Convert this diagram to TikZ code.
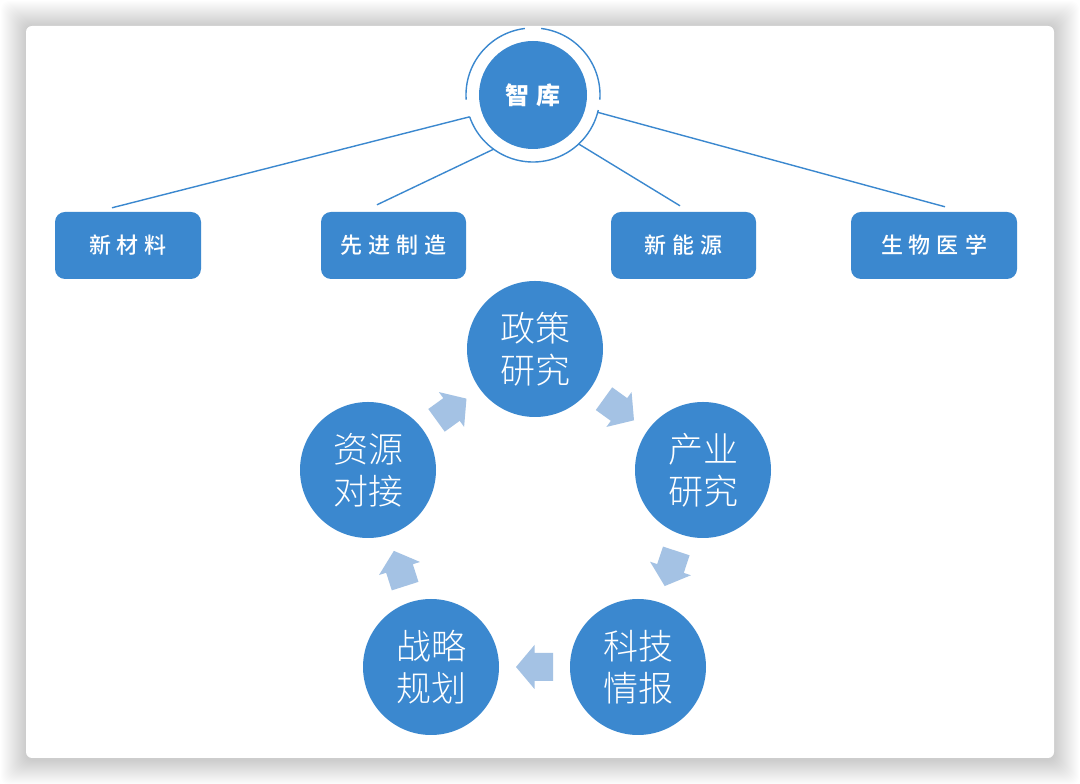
\documentclass[tikz,border=0pt]{standalone}
\usepackage{fontspec}
\newfontfamily\cjk{Noto Sans CJK SC}
\newfontfamily\cjkmed{Noto Sans CJK SC Medium}
\newfontfamily\cjklight{Noto Sans CJK SC Light}
\usetikzlibrary{calc}
\definecolor{mainblue}{RGB}{59,136,207}
\definecolor{arrowblue}{RGB}{164,194,228}
\begin{document}
\begin{tikzpicture}[x=1pt,y=1pt,
  catbox/.style={fill=mainblue, rounded corners=10pt, minimum height=67pt, text=white, font=\cjkmed\fontsize{22}{26}\selectfont, inner sep=0pt},
  cyc/.style={circle, fill=mainblue, minimum size=136pt, inner sep=0pt, text=white, align=center, font=\cjklight\fontsize{35}{42}\selectfont},
  link/.style={draw=mainblue, line width=1.4pt},
  cycarrow/.style={fill=arrowblue}]
\fill[white] (0,0) rectangle (1080,784);
\useasboundingbox (0,0) rectangle (1080,784);
% shadow
\foreach \i in {1,...,25}{
  \fill[black, opacity=0.0065, rounded corners=8pt] ({26-\i},{24-\i}) rectangle ({1054+\i},{758+\i});
}
% card
\fill[white, rounded corners=6pt] (26,26) rectangle (1054,758);

% hub
\node[circle, fill=mainblue, minimum size=108pt, inner sep=0pt, text=white, font=\cjk\bfseries\fontsize{24}{28}\selectfont] (zk) at (533,689) {智\hskip8pt 库};
\draw[link] (zk.center) ++(97:67) arc[start angle=97, end angle=184, radius=67];
\draw[link] (zk.center) ++(199:67) arc[start angle=199, end angle=347, radius=67];
\draw[link] (zk.center) ++(356:67) arc[start angle=356, end angle=443, radius=67];
\coordinate (r1) at ($(zk.center)+(199:67)$);
\coordinate (r2) at ($(zk.center)+(234:67)$);
\coordinate (r3) at ($(zk.center)+(313:67)$);
\coordinate (r4) at ($(zk.center)+(345:67)$);

% category boxes
\node[catbox, minimum width=146pt] (b1) at (128,538.5) {新\hskip6pt 材\hskip6pt 料};
\node[catbox, minimum width=145pt] (b2) at (393.5,538.5) {先\hskip6pt 进\hskip6pt 制\hskip6pt 造};
\node[catbox, minimum width=145pt] (b3) at (683.5,538.5) {新\hskip6pt 能\hskip6pt 源};
\node[catbox, minimum width=166pt] (b4) at (934,538.5) {生\hskip6pt 物\hskip6pt 医\hskip6pt 学};
\coordinate (e1) at ($(b1.north)+(-16,4)$);
\coordinate (e2) at ($(b2.north)+(-16.5,7)$);
\coordinate (e3) at ($(b3.north)+(-3.5,6)$);
\coordinate (e4) at ($(b4.north)+(11,5)$);
\draw[link] (r1) -- (e1);
\draw[link] (r2) -- (e2);
\draw[link] (r3) -- (e3);
\draw[link] (r4) -- (e4);

% cycle
\node[cyc] (p1) at (535,435) {政策\\研究};
\node[cyc] (p2) at (703,314) {产业\\研究};
\node[cyc] (p3) at (638,117) {科技\\情报};
\node[cyc] (p4) at (431,117) {战略\\规划};
\node[cyc] (p5) at (368,314) {资源\\对接};
\coordinate (m12) at ($(p1)!0.5!(p2)$);
\coordinate (m23) at ($(p2)!0.5!(p3)$);
\coordinate (m34) at ($(p3)!0.5!(p4)$);
\coordinate (m45) at ($(p4)!0.5!(p5)$);
\coordinate (m51) at ($(p5)!0.5!(p1)$);
\fill[cycarrow, shift={(m12)}, rotate=-35.8] (-18.5,-14) -- (0,-14) -- (0,-21.5) -- (18.5,0) -- (0,21.5) -- (0,14) -- (-18.5,14) -- cycle;
\fill[cycarrow, shift={(m23)}, rotate=-108.3] (-18.5,-14) -- (0,-14) -- (0,-21.5) -- (18.5,0) -- (0,21.5) -- (0,14) -- (-18.5,14) -- cycle;
\fill[cycarrow, shift={(m34)}, rotate=180] (-18.5,-14) -- (0,-14) -- (0,-22) -- (18.5,0) -- (0,22) -- (0,14) -- (-18.5,14) -- cycle;
\fill[cycarrow, shift={(m45)}, rotate=107.7] (-18.5,-14) -- (0,-14) -- (0,-21.5) -- (18.5,0) -- (0,21.5) -- (0,14) -- (-18.5,14) -- cycle;
\fill[cycarrow, shift={(m51)}, rotate=35.9] (-18.5,-14) -- (0,-14) -- (0,-21.5) -- (18.5,0) -- (0,21.5) -- (0,14) -- (-18.5,14) -- cycle;
\end{tikzpicture}
\end{document}
